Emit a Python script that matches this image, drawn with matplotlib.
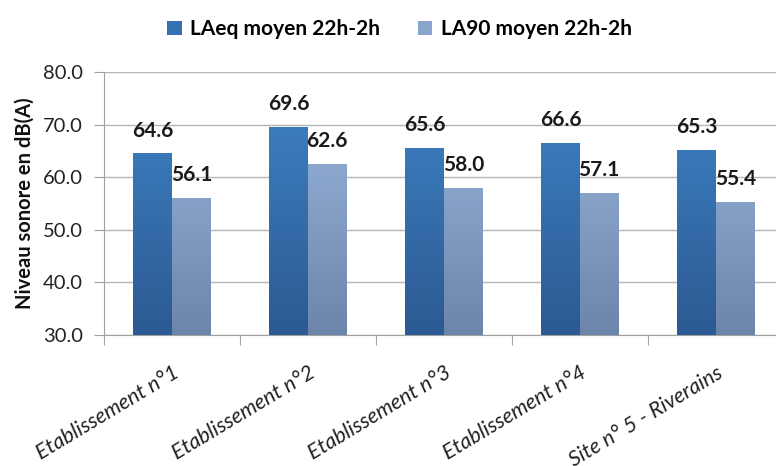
import numpy as np
import matplotlib
matplotlib.use("Agg")
import matplotlib.pyplot as plt
from matplotlib.colors import LinearSegmentedColormap
from matplotlib.patches import Patch

plt.rcParams['font.family'] = ['Lato', 'DejaVu Sans']

categories = ["Etablissement n°1", "Etablissement n°2", "Etablissement n°3",
              "Etablissement n°4", "Site n° 5 - Riverains"]
laeq = [64.6, 69.6, 65.6, 66.6, 65.3]
la90 = [56.1, 62.6, 58.0, 57.1, 55.4]
series_names = ["LAeq moyen 22h-2h", "LA90 moyen 22h-2h"]
yticks = [30.0, 40.0, 50.0, 60.0, 70.0, 80.0]

fig = plt.figure(figsize=(7.76, 4.66), dpi=100)
ax = fig.add_axes([0.134, 0.281, 0.876, 0.564])

x = np.arange(len(categories))
w = 0.285
grads = [("#3f85c9", "#2c5a92"), ("#9fbbe2", "#6c85aa")]
solid = ["#3570b0", "#8aa5cc"]

ax.set_ylim(30, 80)
ax.set_xlim(-0.5, len(categories) - 0.5)

for vals, off, (ctop, cbot) in zip([laeq, la90], [-w / 2, w / 2], grads):
    bars = ax.bar(x + off, np.array(vals) - 30, w, bottom=30, color="none",
                  edgecolor="none", zorder=3)
    cmap = LinearSegmentedColormap.from_list("g", [cbot, ctop])
    grad = np.linspace(0, 1, 256).reshape(-1, 1)
    for b, v in zip(bars, vals):
        x0 = b.get_x()
        im = ax.imshow(grad, cmap=cmap, origin="lower", aspect="auto",
                       extent=[x0, x0 + b.get_width(), 30, 80], zorder=3)
        im.set_clip_path(b)
        ax.annotate(f"{v:.1f}", (x0 + b.get_width() / 2, v), xytext=(0, 9),
                    textcoords="offset points", ha="center", va="bottom",
                    fontsize=15, fontweight="bold", color="#1a1a1a", zorder=4)

ax.set_xlim(-0.5, len(categories) - 0.5)
ax.set_ylim(30, 80)

ax.set_yticks(yticks)
ax.set_yticklabels([f"{t:.1f}" for t in yticks], fontsize=14.5, color="#222222")
ax.yaxis.grid(True, color="#b5b5b5", linewidth=1.0, zorder=0)
ax.set_axisbelow(True)

ax.set_xticks(np.arange(len(categories) + 1) - 0.5)
ax.set_xticklabels([])
ax.set_xticks(x, minor=True)
ax.set_xticklabels(categories, minor=True, rotation=31, ha="right",
                   rotation_mode="anchor", fontsize=15.5, style="italic",
                   color="#222222")
ax.tick_params(axis="x", which="minor", length=0, pad=20)
ax.tick_params(axis="x", which="major", length=7, color="#a0a0a0")
ax.tick_params(axis="y", length=7, color="#a0a0a0", pad=8)

for s in ["top", "right"]:
    ax.spines[s].set_visible(False)
for s in ["left", "bottom"]:
    ax.spines[s].set_color("#a0a0a0")

ax.set_ylabel("Niveau sonore en dB(A)", fontsize=14.5, fontweight="bold",
              color="#111111", labelpad=6)

handles = [Patch(facecolor=solid[0]), Patch(facecolor=solid[1])]
fig.legend(handles, series_names, loc="center", bbox_to_anchor=(0.515, 0.937),
           ncol=2, frameon=False, handlelength=0.7, handleheight=0.7,
           columnspacing=1.8, handletextpad=0.4,
           prop={"size": 15, "weight": "bold"})

fig.savefig("out.png", dpi=100)
